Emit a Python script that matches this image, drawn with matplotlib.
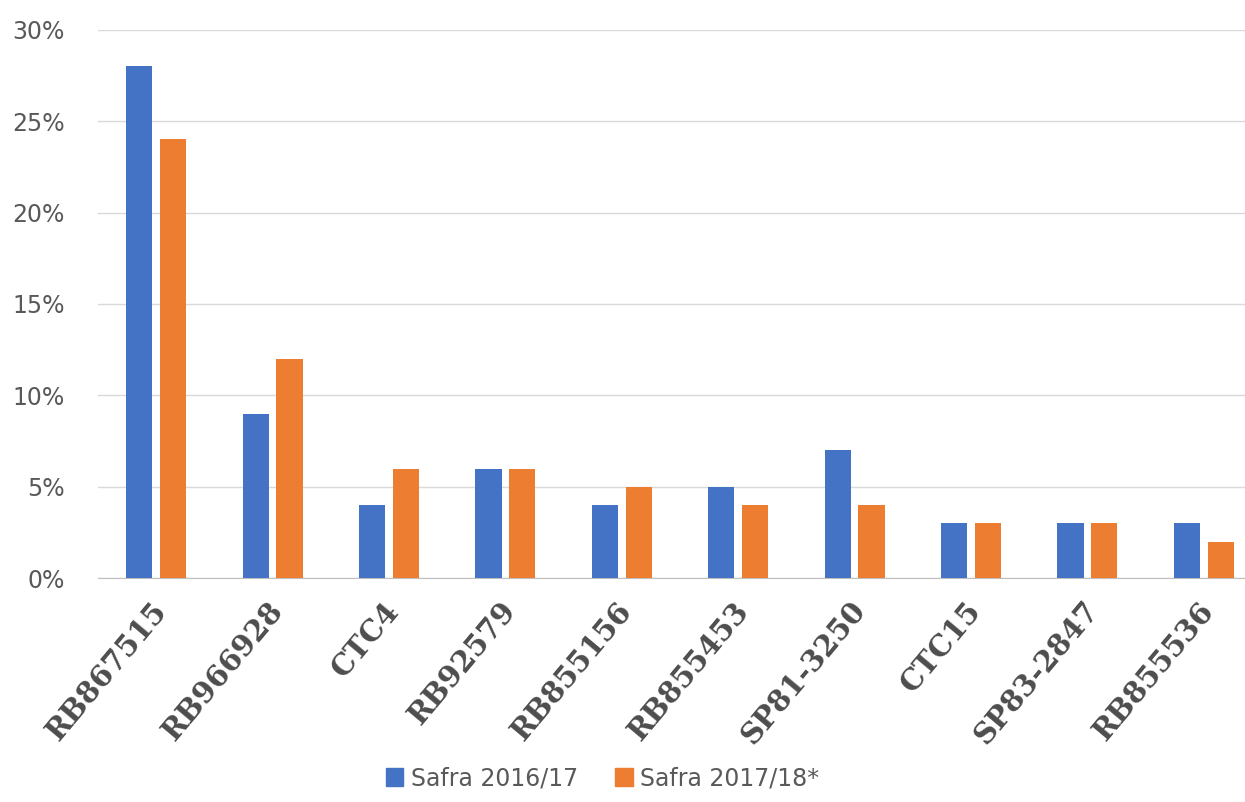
import matplotlib
matplotlib.use("Agg")
import matplotlib.pyplot as plt
import numpy as np
from matplotlib.ticker import FuncFormatter
from matplotlib.patches import Patch

categories = ["RB867515", "RB966928", "CTC4", "RB92579", "RB855156",
              "RB855453", "SP81-3250", "CTC15", "SP83-2847", "RB855536"]
safra_2016 = [28, 9, 4, 6, 4, 5, 7, 3, 3, 3]
safra_2017 = [24, 12, 6, 6, 5, 4, 4, 3, 3, 2]
series_names = ["Safra 2016/17", "Safra 2017/18*"]

BLUE = "#4472C4"
ORANGE = "#ED7D31"

fig = plt.figure(figsize=(12.45, 8.02), dpi=100)
# right edge goes past the figure, the source image is cropped there
ax = fig.add_axes([0.0787, 0.279, 0.935, 0.684])

x = np.arange(len(categories))
w = 0.225
gap = 0.065
ax.bar(x - (w + gap) / 2, np.array(safra_2016) / 100, width=w, color=BLUE, zorder=3)
ax.bar(x + (w + gap) / 2, np.array(safra_2017) / 100, width=w, color=ORANGE, zorder=3)

ax.set_xlim(-0.5, len(categories) - 0.5)
ax.set_ylim(0, 0.30)
ax.set_yticks(np.arange(0, 0.31, 0.05))
ax.yaxis.set_major_formatter(FuncFormatter(lambda v, _: f"{v * 100:.0f}%"))
ax.grid(axis="y", color="#d9d9d9", linewidth=1, zorder=0)
for side in ["top", "right", "left"]:
    ax.spines[side].set_visible(False)
ax.spines["bottom"].set_color("#bfbfbf")
ax.tick_params(axis="y", length=0, pad=24, labelsize=17, labelcolor="#595959")
ax.tick_params(axis="x", length=0, pad=13)

ax.set_xticks(x - 0.05)
ax.set_xticklabels(categories, rotation=50, ha="right", rotation_mode="anchor",
                   fontsize=21, fontweight="bold", family="DejaVu Serif",
                   color="#4d4d4d")

handles = [Patch(color=BLUE), Patch(color=ORANGE)]
fig.legend(handles, series_names, loc="lower center", ncol=2, frameon=False,
           bbox_to_anchor=(0.484, -0.012), fontsize=17, handlelength=0.75,
           handleheight=0.75, columnspacing=1.6, handletextpad=0.3,
           labelcolor="#595959")

fig.savefig("out.png", dpi=100)
